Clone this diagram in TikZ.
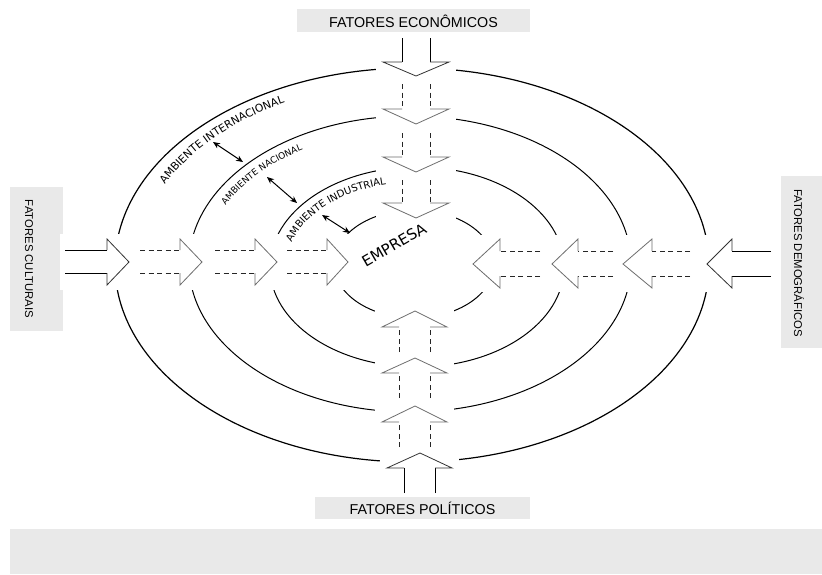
\documentclass[tikz,border=0pt]{standalone}
\usepackage{fontspec}
\setmainfont{Liberation Sans}
\newfontfamily\arcfont{DejaVu Sans}
\usetikzlibrary{arrows.meta,calc,decorations.text}
\definecolor{boxGray}{HTML}{E9E9E9}
\definecolor{headGray}{HTML}{6E6E6E}

\begin{document}
\begin{tikzpicture}[
    x=1pt, y=-1pt,
    ring/.style={draw=black, line width=1pt},
    knockout/.style={fill=white},
    solidshaft/.style={draw=black, line width=0.9pt},
    dashshaft/.style={draw=black!85, line width=0.8pt, dash pattern=on 5pt off 3.5pt},
    outerhead/.style={draw=black!80, line width=0.8pt},
    innerhead/.style={draw=headGray, line width=0.8pt},
    factorlabel/.style={font=\fontsize{14.3}{16}\selectfont, inner sep=0pt},
    sidelabel/.style={font=\fontsize{11.3}{13}\selectfont, inner sep=0pt, rotate=-90},
    dblarrow/.style={{Stealth[length=7pt,width=6pt]}-{Stealth[length=7pt,width=6pt]}, line width=1pt}
]
\useasboundingbox (0,0) rectangle (822,574);

% grey panels
\fill[boxGray] (297,9) rectangle (530,32);
\fill[boxGray] (315,497) rectangle (530,519);
\fill[boxGray] (10,187) rectangle (63,331);
\fill[boxGray] (781,176) rectangle (822,348);
\fill[boxGray] (10,529) rectangle (822,574);

% environment rings
\draw[ring, line width=1.2pt] (412,265) ellipse [x radius=297, y radius=197];
\draw[ring] (410,264) ellipse [x radius=221, y radius=148];
\draw[ring] (417,267) ellipse [x radius=147, y radius=100];
\draw[ring] (414,264) ellipse [x radius=80, y radius=54];

% arrows from the left
\foreach \tl/\bs/\tp/\sh/\hd in {65/107/129/solidshaft/outerhead, 140/180/202/dashshaft/innerhead,
    215/255/277/dashshaft/innerhead, 287/327/348/dashshaft/innerhead}{
  \fill[knockout] (\tl-5,234) rectangle (\tp+3,290);
  \draw[\sh] (\tl,250) -- (\bs,250) (\tl,273) -- (\bs,273);
  \draw[\hd] (\bs,250) -- (\bs,239) -- (\tp,262) -- (\bs,285) -- (\bs,273);
}

% arrows from the right
\foreach \tl/\bs/\tp/\sh/\hd in {771/732/707/solidshaft/outerhead, 690/652/623/dashshaft/innerhead,
    613/578/552/dashshaft/innerhead, 540/500/473/dashshaft/innerhead}{
  \fill[knockout] (\tp-3,235) rectangle (\tl+5,292);
  \draw[\sh] (\tl,251) -- (\bs,251) (\tl,276) -- (\bs,276);
  \draw[\hd] (\bs,251) -- (\bs,239) -- (\tp,264) -- (\bs,288) -- (\bs,276);
}

% arrows from the top
\foreach \tl/\bs/\tp/\sh/\hd in {38/62/76/solidshaft/outerhead, 84/109/124/dashshaft/innerhead,
    133/157/172/dashshaft/innerhead, 180/203/218/dashshaft/innerhead}{
  \fill[knockout] (376,\tl-3) rectangle (456,\tp+3);
  \draw[\sh] (402,\tl) -- (402,\bs) (430,\tl) -- (430,\bs);
  \draw[\hd] (402,\bs) -- (383,\bs) -- (416,\tp) -- (449,\bs) -- (430,\bs);
}

% arrows from the bottom
\foreach \tl/\bs/\tp/\dx/\sh/\hd in {493/468/453/5/solidshaft/outerhead, 447/422/406/0/dashshaft/innerhead,
    398/373/358/0/dashshaft/innerhead, 352/327/311/0/dashshaft/innerhead}{
  \fill[knockout] (375+\dx,\tp-3) rectangle (454+\dx,\tl+3);
  \draw[\sh] (399+\dx,\tl) -- (399+\dx,\bs) (430+\dx,\tl) -- (430+\dx,\bs);
  \draw[\hd] (399+\dx,\bs) -- (382+\dx,\bs) -- (415+\dx,\tp) -- (447+\dx,\bs) -- (430+\dx,\bs);
}

% factor labels
\node[factorlabel] (econ) at (413.5,21) {FATORES ECONÔMICOS};
\node[factorlabel] (polit) at (422.5,508) {FATORES POLÍTICOS};
\node[sidelabel] (cult) at (29,259) {FATORES CULTURAIS};
\node[sidelabel] (demo) at (799,263) {FATORES DEMOGRÁFICOS};
\node[font=\arcfont\fontsize{15}{17}\selectfont, rotate=30, inner sep=0pt] (empresa) at (394,245) {EMPRESA};

% ring labels
\path[decorate, decoration={text along path, text align=left,
    text={|\arcfont\fontsize{10.8}{12}\selectfont|AMBIENTE INTERNACIONAL}}]
  ($(412,265)+(-154:275 and 183)$) arc [start angle=-154, end angle=-90, x radius=275, y radius=183];
\path[decorate, decoration={text along path, text align=left,
    text={|\arcfont\fontsize{9}{11}\selectfont|AMBIENTE NACIONAL}}]
  ($(410,264)+(-154:205 and 134)$) arc [start angle=-154, end angle=-80, x radius=205, y radius=134];
\path[decorate, decoration={text along path, text align=left,
    text={|\arcfont\fontsize{10}{12}\selectfont|AMBIENTE INDUSTRIAL}}]
  ($(417,267)+(-163:131 and 85)$) arc [start angle=-163, end angle=-60, x radius=131, y radius=85];

% interaction arrows
\coordinate (intA) at (213,142);
\coordinate (natA) at (243,162);
\coordinate (natB) at (267,177);
\coordinate (indB) at (297,203);
\coordinate (indC) at (322,215);
\coordinate (empC) at (350,233);
\draw[dblarrow] (intA) -- (natA);
\draw[dblarrow] (natB) -- (indB);
\draw[dblarrow] (indC) -- (empC);

\end{tikzpicture}
\end{document}
